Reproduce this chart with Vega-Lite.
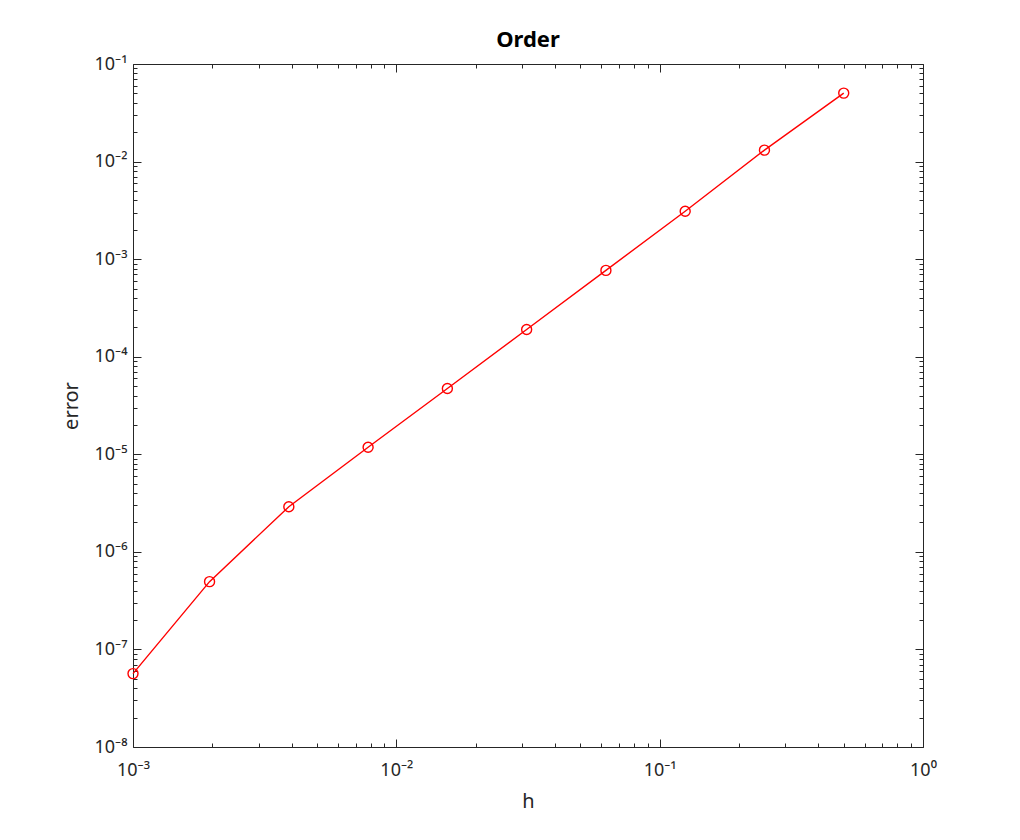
{
  "$schema": "https://vega.github.io/schema/vega-lite/v6.json",
  "autosize": {"type": "none"},
  "width": 790,
  "height": 683,
  "padding": {"left": 133, "top": 64, "right": 97, "bottom": 93},
  "background": "white",
  "config": {
    "view": {"stroke": null},
    "font": "Noto Sans",
    "axis": {
      "grid": false,
      "domainColor": "#262626",
      "domainWidth": 1,
      "tickColor": "#262626",
      "tickWidth": 1,
      "labelColor": "#262626",
      "titleColor": "#262626",
      "labelFont": "Noto Sans",
      "titleFont": "Noto Sans",
      "labelFontSize": 18,
      "titleFontSize": 20,
      "titleFontWeight": "normal"
    }
  },
  "title": {"text": "Order", "fontSize": 22, "fontWeight": "bold", "font": "Noto Sans", "color": "#000000", "offset": 3},
  "data": {
    "values": [
      {"h": 0.5, "error": 0.0503},
      {"h": 0.25, "error": 0.0131},
      {"h": 0.125, "error": 0.0031},
      {"h": 0.0625, "error": 0.000767},
      {"h": 0.03125, "error": 0.00019},
      {"h": 0.015625, "error": 0.0000472},
      {"h": 0.0078125, "error": 0.0000118},
      {"h": 0.00390625, "error": 0.0000029},
      {"h": 0.001953125, "error": 0.000000495},
      {"h": 0.001, "error": 0.0000000565}
    ]
  },
  "resolve": {"axis": {"x": "independent", "y": "independent"}},
  "layer": [
    {
      "mark": {"type": "line", "color": "#FF0000", "strokeWidth": 1.4, "clip": false,
        "point": {"shape": "circle", "filled": false, "stroke": "#FF0000", "fill": null, "size": 100, "strokeWidth": 1.4}},
      "encoding": {
        "x": {"field": "h", "type": "quantitative",
          "scale": {"type": "log", "domain": [0.001, 1], "nice": false},
          "axis": {"orient": "bottom", "title": "h", "titlePadding": 8, "labelPadding": 22,
            "values": [0.001,0.002,0.003,0.004,0.005,0.006,0.007,0.008,0.009,0.01,0.02,0.03,0.04,0.05,0.06,0.07,0.08,0.09,0.1,0.2,0.3,0.4,0.5,0.6,0.7,0.8,0.9,1],
            "tickSize": {"condition": {"test": "abs(log(datum.value)/LN10 - round(log(datum.value)/LN10)) < 1e-6", "value": -8}, "value": -4},
            "labelExpr": "abs(log(datum.value)/LN10 - round(log(datum.value)/LN10)) < 1e-6 ? '10' + (round(log(datum.value)/LN10) < 0 ? '⁻' : '') + ['⁰','¹','²','³','⁴','⁵','⁶','⁷','⁸','⁹'][abs(round(log(datum.value)/LN10))] : ''",
            "labelFlush": false, "labelOverlap": false}},
        "y": {"field": "error", "type": "quantitative",
          "scale": {"type": "log", "domain": [1e-8, 0.1], "nice": false},
          "axis": {"orient": "left", "title": "error", "titlePadding": 13, "labelPadding": 14,
            "values": [1e-8,2e-8,3e-8,4e-8,5e-8,6e-8,7e-8,8e-8,9e-8,1e-7,2e-7,3e-7,4e-7,5e-7,6e-7,7e-7,8e-7,9e-7,1e-6,2e-6,3e-6,4e-6,5e-6,6e-6,7e-6,8e-6,9e-6,1e-5,2e-5,3e-5,4e-5,5e-5,6e-5,7e-5,8e-5,9e-5,1e-4,2e-4,3e-4,4e-4,5e-4,6e-4,7e-4,8e-4,9e-4,1e-3,2e-3,3e-3,4e-3,5e-3,6e-3,7e-3,8e-3,9e-3,1e-2,2e-2,3e-2,4e-2,5e-2,6e-2,7e-2,8e-2,9e-2,1e-1],
            "tickSize": {"condition": {"test": "abs(log(datum.value)/LN10 - round(log(datum.value)/LN10)) < 1e-6", "value": -8}, "value": -4},
            "labelExpr": "abs(log(datum.value)/LN10 - round(log(datum.value)/LN10)) < 1e-6 ? '10' + (round(log(datum.value)/LN10) < 0 ? '⁻' : '') + ['⁰','¹','²','³','⁴','⁵','⁶','⁷','⁸','⁹'][abs(round(log(datum.value)/LN10))] : ''",
            "labelFlush": false, "labelOverlap": false}}
      }
    },
    {
      "mark": {"type": "point", "opacity": 0},
      "encoding": {
        "x": {"field": "h", "type": "quantitative",
          "scale": {"type": "log", "domain": [0.001, 1], "nice": false},
          "axis": {"orient": "top", "title": null, "labels": false,
            "values": [0.001,0.002,0.003,0.004,0.005,0.006,0.007,0.008,0.009,0.01,0.02,0.03,0.04,0.05,0.06,0.07,0.08,0.09,0.1,0.2,0.3,0.4,0.5,0.6,0.7,0.8,0.9,1],
            "tickSize": {"condition": {"test": "abs(log(datum.value)/LN10 - round(log(datum.value)/LN10)) < 1e-6", "value": -8}, "value": -4}}},
        "y": {"field": "error", "type": "quantitative",
          "scale": {"type": "log", "domain": [1e-8, 0.1], "nice": false},
          "axis": {"orient": "right", "title": null, "labels": false,
            "values": [1e-8,2e-8,3e-8,4e-8,5e-8,6e-8,7e-8,8e-8,9e-8,1e-7,2e-7,3e-7,4e-7,5e-7,6e-7,7e-7,8e-7,9e-7,1e-6,2e-6,3e-6,4e-6,5e-6,6e-6,7e-6,8e-6,9e-6,1e-5,2e-5,3e-5,4e-5,5e-5,6e-5,7e-5,8e-5,9e-5,1e-4,2e-4,3e-4,4e-4,5e-4,6e-4,7e-4,8e-4,9e-4,1e-3,2e-3,3e-3,4e-3,5e-3,6e-3,7e-3,8e-3,9e-3,1e-2,2e-2,3e-2,4e-2,5e-2,6e-2,7e-2,8e-2,9e-2,1e-1],
            "tickSize": {"condition": {"test": "abs(log(datum.value)/LN10 - round(log(datum.value)/LN10)) < 1e-6", "value": -8}, "value": -4}}}
      }
    }
  ]
}
